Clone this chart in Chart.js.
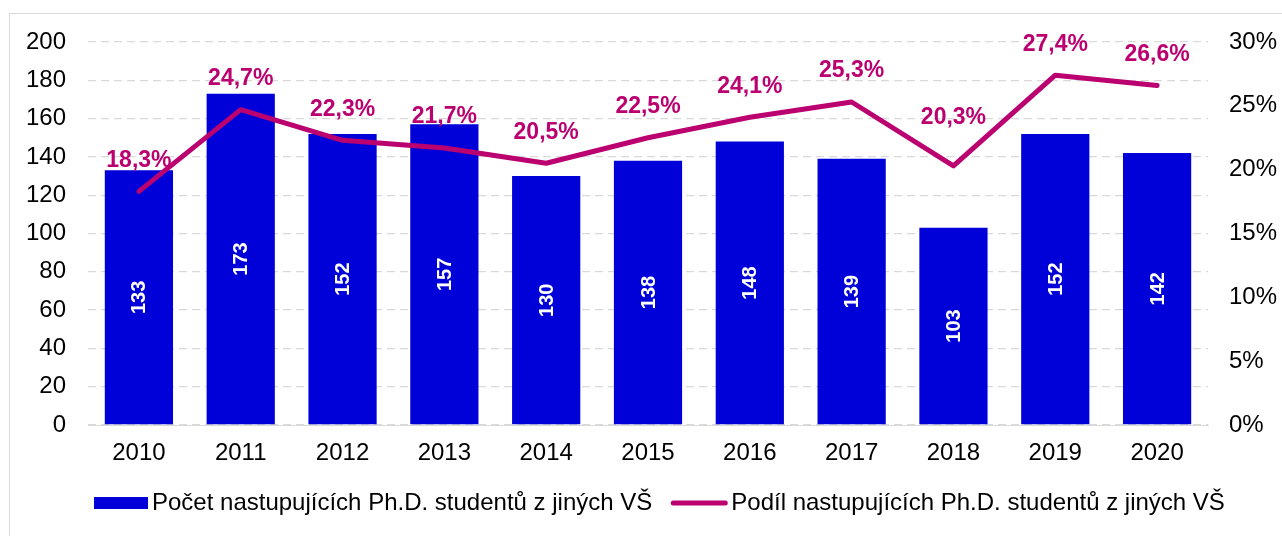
<!DOCTYPE html>
<html>
<head>
<meta charset="utf-8">
<script src="https://cdn.jsdelivr.net/npm/chart.js@4/dist/chart.umd.min.js"></script>
<style>
  html, body { margin: 0; padding: 0; background: #fff; overflow: hidden; }
  #wrap { position: relative; width: 1282px; height: 536px; }
  #frame { position: absolute; left: 9px; top: 13px; width: 1290px; height: 540px; border: 1px solid #d9d9d9; }
  #box { position: absolute; left: 0; top: 0; width: 1282px; height: 536px; }
</style>
</head>
<body>
<div id="wrap">
  <div id="frame"></div>
  <div id="box"><canvas id="graf"></canvas></div>
</div>
<script>
const roky = ["2010", "2011", "2012", "2013", "2014", "2015", "2016", "2017", "2018", "2019", "2020"];
const pocet = [133, 173, 152, 157, 130, 138, 148, 139, 103, 152, 142];
const podil = [18.3, 24.7, 22.3, 21.7, 20.5, 22.5, 24.1, 25.3, 20.3, 27.4, 26.6];
const nazvy = ["Počet nastupujících Ph.D. studentů z jiných VŠ", "Podíl nastupujících Ph.D. studentů z jiných VŠ"];
const modra = "#0000d8";
const fialova = "#bb0070";
const font = "'Liberation Sans', Arial, sans-serif";

// posun popisku nad bodem (2018 je v originale vyse)
const zvednuti = podil.map(function (v, i) { return i === 8 ? 48 : 31; });

const popisky = {
  id: "popisky",
  afterDatasetsDraw(chart) {
    const ctx = chart.ctx;
    const bary = chart.getDatasetMeta(1).data;
    const body = chart.getDatasetMeta(0).data;
    ctx.save();
    ctx.fillStyle = "#fff";
    ctx.font = "bold 20px " + font;
    ctx.textAlign = "center";
    ctx.textBaseline = "middle";
    bary.forEach(function (b, i) {
      ctx.save();
      ctx.translate(b.x, (b.y + b.base) / 2);
      ctx.rotate(-Math.PI / 2);
      ctx.fillText(String(pocet[i]), 0, 1);
      ctx.restore();
    });
    ctx.fillStyle = fialova;
    ctx.font = "bold 23px " + font;
    body.forEach(function (p, i) {
      ctx.fillText(podil[i].toFixed(1).replace(".", ",") + "%", p.x, p.y - zvednuti[i]);
    });
    ctx.restore();
  },
  afterDraw(chart) {
    const ctx = chart.ctx;
    const y = 503;
    ctx.save();
    ctx.font = "24px " + font;
    ctx.textBaseline = "middle";
    ctx.textAlign = "left";
    const w1 = ctx.measureText(nazvy[0]).width;
    let x = 94;
    ctx.fillStyle = modra;
    ctx.fillRect(x, y - 6, 54, 12);
    ctx.fillStyle = "#000";
    ctx.fillText(nazvy[0], x + 58, y);
    x += 58 + w1 + 19;
    ctx.strokeStyle = fialova;
    ctx.lineWidth = 5;
    ctx.lineCap = "round";
    ctx.beginPath();
    ctx.moveTo(x + 2, y);
    ctx.lineTo(x + 54, y);
    ctx.stroke();
    ctx.fillText(nazvy[1], x + 60, y);
    ctx.restore();
  }
};

new Chart(document.getElementById("graf"), {
  data: {
    labels: roky,
    datasets: [
      {
        type: "line",
        label: nazvy[1],
        data: podil,
        yAxisID: "y1",
        borderColor: fialova,
        borderWidth: 5,
        pointRadius: 0,
        tension: 0,
        borderJoinStyle: "round",
        borderCapStyle: "round",
        order: 0
      },
      {
        type: "bar",
        label: nazvy[0],
        data: pocet,
        yAxisID: "y",
        backgroundColor: modra,
        categoryPercentage: 0.67,
        barPercentage: 1,
        order: 1
      }
    ]
  },
  options: {
    responsive: true,
    maintainAspectRatio: false,
    animation: false,
    layout: { padding: { top: 42, right: 0, bottom: 75, left: 0 } },
    plugins: { legend: { display: false }, tooltip: { enabled: false } },
    scales: {
      x: {
        offset: true,
        grid: { drawOnChartArea: false, drawTicks: false },
        border: { display: true, color: "#d9d9d9", width: 1 },
        ticks: { color: "#000", font: { family: font, size: 24 }, padding: 14, maxRotation: 0 },
        afterFit(s) { s.height = 36; }
      },
      y: {
        position: "left",
        min: 0,
        max: 200,
        ticks: { stepSize: 20, color: "#000", font: { family: font, size: 24 }, padding: 22 },
        grid: { color: "#d9d9d9", lineWidth: 1.3, drawTicks: false },
        border: { display: false, dash: [8, 5] },
        afterFit(s) { s.width = 88; }
      },
      y1: {
        position: "right",
        min: 0,
        max: 30,
        ticks: {
          stepSize: 5,
          color: "#000",
          font: { family: font, size: 24 },
          padding: 21,
          callback: function (v) { return v + "%"; }
        },
        grid: { drawOnChartArea: false, drawTicks: false },
        border: { display: false },
        afterFit(s) { s.width = 74; }
      }
    }
  },
  plugins: [popisky]
});
</script>
</body>
</html>
